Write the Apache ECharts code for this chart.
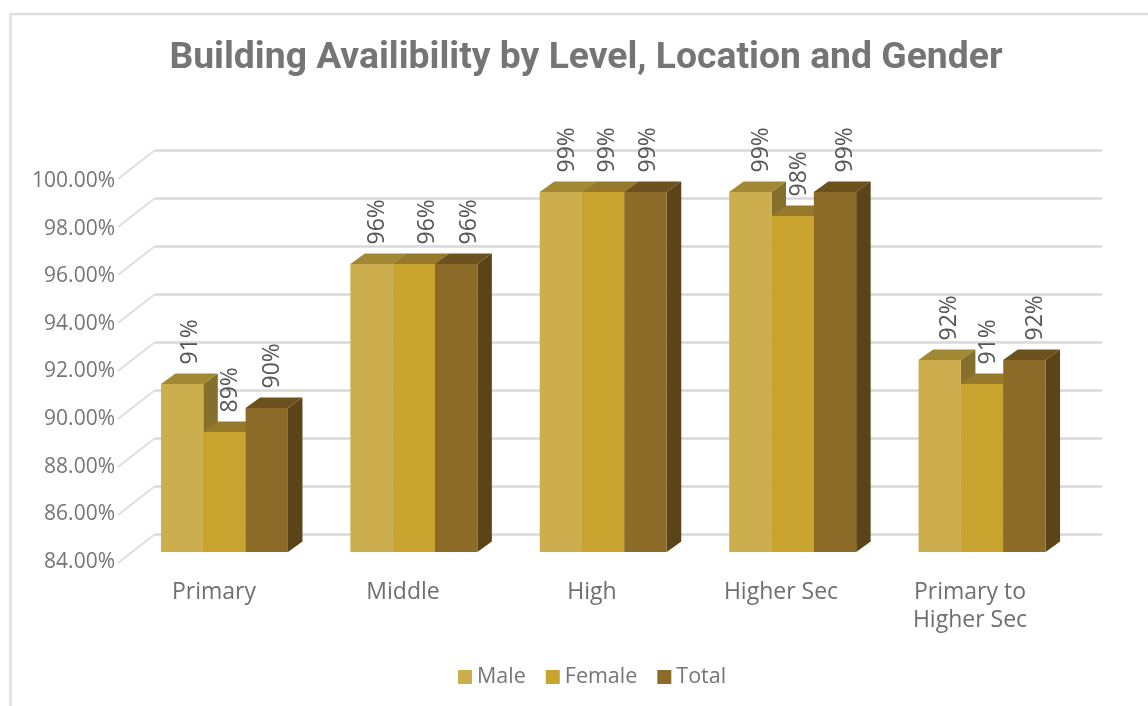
<!DOCTYPE html>
<html><head><meta charset="utf-8">
<style>html,body{margin:0;padding:0;background:#fff}#c{width:1148px;height:706px}</style>
<script src="https://cdn.jsdelivr.net/npm/echarts@6/dist/echarts.min.js"></script>
</head><body><div id="c"></div>
<script>
const categories = ['Primary','Middle','High','Higher Sec','Primary to\nHigher Sec'];
const male = [91,96,99,99,92];
const female = [89,96,99,98,91];
const total = [90,96,99,99,92];
const seriesNames = ['Male','Female','Total'];
const yMin = 84, yMax = 100, yStep = 2;
const yTicks = [84,86,88,90,92,94,96,98,100];
const colors = {
  Male:   {front:'#cdae4e', top:'#a08835', side:'#84702c'},
  Female: {front:'#c8a42f', top:'#96792a', side:'#84702c'},
  Total:  {front:'#8c6b28', top:'#6c501e', side:'#5b4417'}
};
// hand-placed label nudges in the original (px right of each bar's centre)
const labelNudge = {
  Male:[8,6,7,11,9.5],
  Female:[6,14,4,6.5,6.5],
  Total:[5.5,13,3,10,11]
};
const DEPTH_X = 14.5, DEPTH_Y = 10.5, FRONT_DY = 18, LABEL_FONT = 'Open Sans';
function barItem(name, idx){
  return function(params, api){
    const p = api.coord([api.value(0), api.value(1)]);
    const base = api.coord([api.value(0), yMin]);
    const band = api.size([1,0])[0];
    const w = band*0.2235;
    const x0 = p[0] - band*0.4685 + idx*w;
    const x1 = x0 + w;
    const yt = p[1] + FRONT_DY, yb = base[1] + FRONT_DY;
    const c = colors[name];
    return {type:'group', children:[
      {type:'polygon', shape:{points:[[x1,yt],[x1+DEPTH_X,yt-DEPTH_Y],[x1+DEPTH_X,yb-DEPTH_Y],[x1,yb]]}, style:{fill:c.side}},
      {type:'polygon', shape:{points:[[x0,yt],[x0+DEPTH_X,yt-DEPTH_Y],[x1+DEPTH_X,yt-DEPTH_Y],[x1,yt]]}, style:{fill:c.top}},
      {type:'rect', shape:{x:x0,y:yt,width:w,height:yb-yt}, style:{fill:c.front}},
      {type:'text', z2:100, x:x0+w/2+labelNudge[name][api.value(0)], y:yt-DEPTH_Y-9, rotation:Math.PI/2,
       style:{text:api.value(1)+'%', fill:'#555555', font:'23px "'+LABEL_FONT+'"', textAlign:'left', textVerticalAlign:'middle'}}
    ]};
  };
}
function slantItem(params, api){
  const p = api.coord([0, api.value(0)]);
  const x = params.coordSys.x;
  return {type:'line', shape:{x1:x-37,y1:p[1]+29,x2:x,y2:p[1]}, style:{stroke:'#e0dede',lineWidth:2}, silent:true};
}
const seriesData = {Male:male,Female:female,Total:total};
const chart = echarts.init(document.getElementById('c'));
chart.setOption({
  animation:false,
  backgroundColor:'#fff',
  title:{text:'Building Availibility by Level, Location and Gender', left:581, top:35, textAlign:'center',
    textStyle:{fontFamily:'Roboto',fontWeight:'bold',fontSize:37.3,color:'#757575'}},
  legend:{data:seriesNames, bottom:13, left:453, itemWidth:14, itemHeight:14, itemGap:20, icon:'rect',
    textStyle:{fontFamily:LABEL_FONT,fontSize:21.5,color:'#757575',padding:[0,0,0,0]}},
  grid:[
    {left:119.5,top:181,width:945,height:381},
    {left:155,top:150,width:947,height:384}
  ],
  xAxis:[
    {gridIndex:0,type:'category',data:categories,axisLine:{show:false},axisTick:{show:false},
      axisLabel:{fontFamily:LABEL_FONT,fontSize:23,color:'#6f6f6f',margin:16,lineHeight:28}},
    {gridIndex:1,type:'category',data:categories,axisLine:{show:false},axisTick:{show:false},axisLabel:{show:false}}
  ],
  yAxis:[
    {gridIndex:0,type:'value',min:yMin,max:yMax,interval:yStep,axisLine:{show:false},axisTick:{show:false},splitLine:{show:false},
      axisLabel:{fontFamily:LABEL_FONT,fontSize:21,color:'#757575',margin:4.5,formatter:v=>v.toFixed(2)+'%'}},
    {gridIndex:1,type:'value',min:yMin,max:yMax,interval:yStep,axisLine:{show:false},axisTick:{show:false},axisLabel:{show:false},
      splitLine:{show:true,lineStyle:{color:'#d9d9d9',width:2.5}}}
  ],
  series:[
    {type:'custom',name:'slant',xAxisIndex:1,yAxisIndex:1,data:yTicks.map(v=>[v]),encode:{x:-1,y:0},renderItem:slantItem,silent:true,legendHoverLink:false,clip:false},
    ...seriesNames.map((n,i)=>({
      type:'custom',name:n,xAxisIndex:1,yAxisIndex:1,clip:false,
      itemStyle:{color:colors[n].front},
      data:seriesData[n].map((v,k)=>[k,v]),
      encode:{x:0,y:1},
      renderItem:barItem(n,i)
    }))
  ],
  graphic:[{type:'polyline',silent:true,shape:{points:[[10.5,706],[10.5,14],[1148,14]]},style:{fill:null,stroke:'#e0e0e0',lineWidth:2.5}}]
});
</script></body></html>
